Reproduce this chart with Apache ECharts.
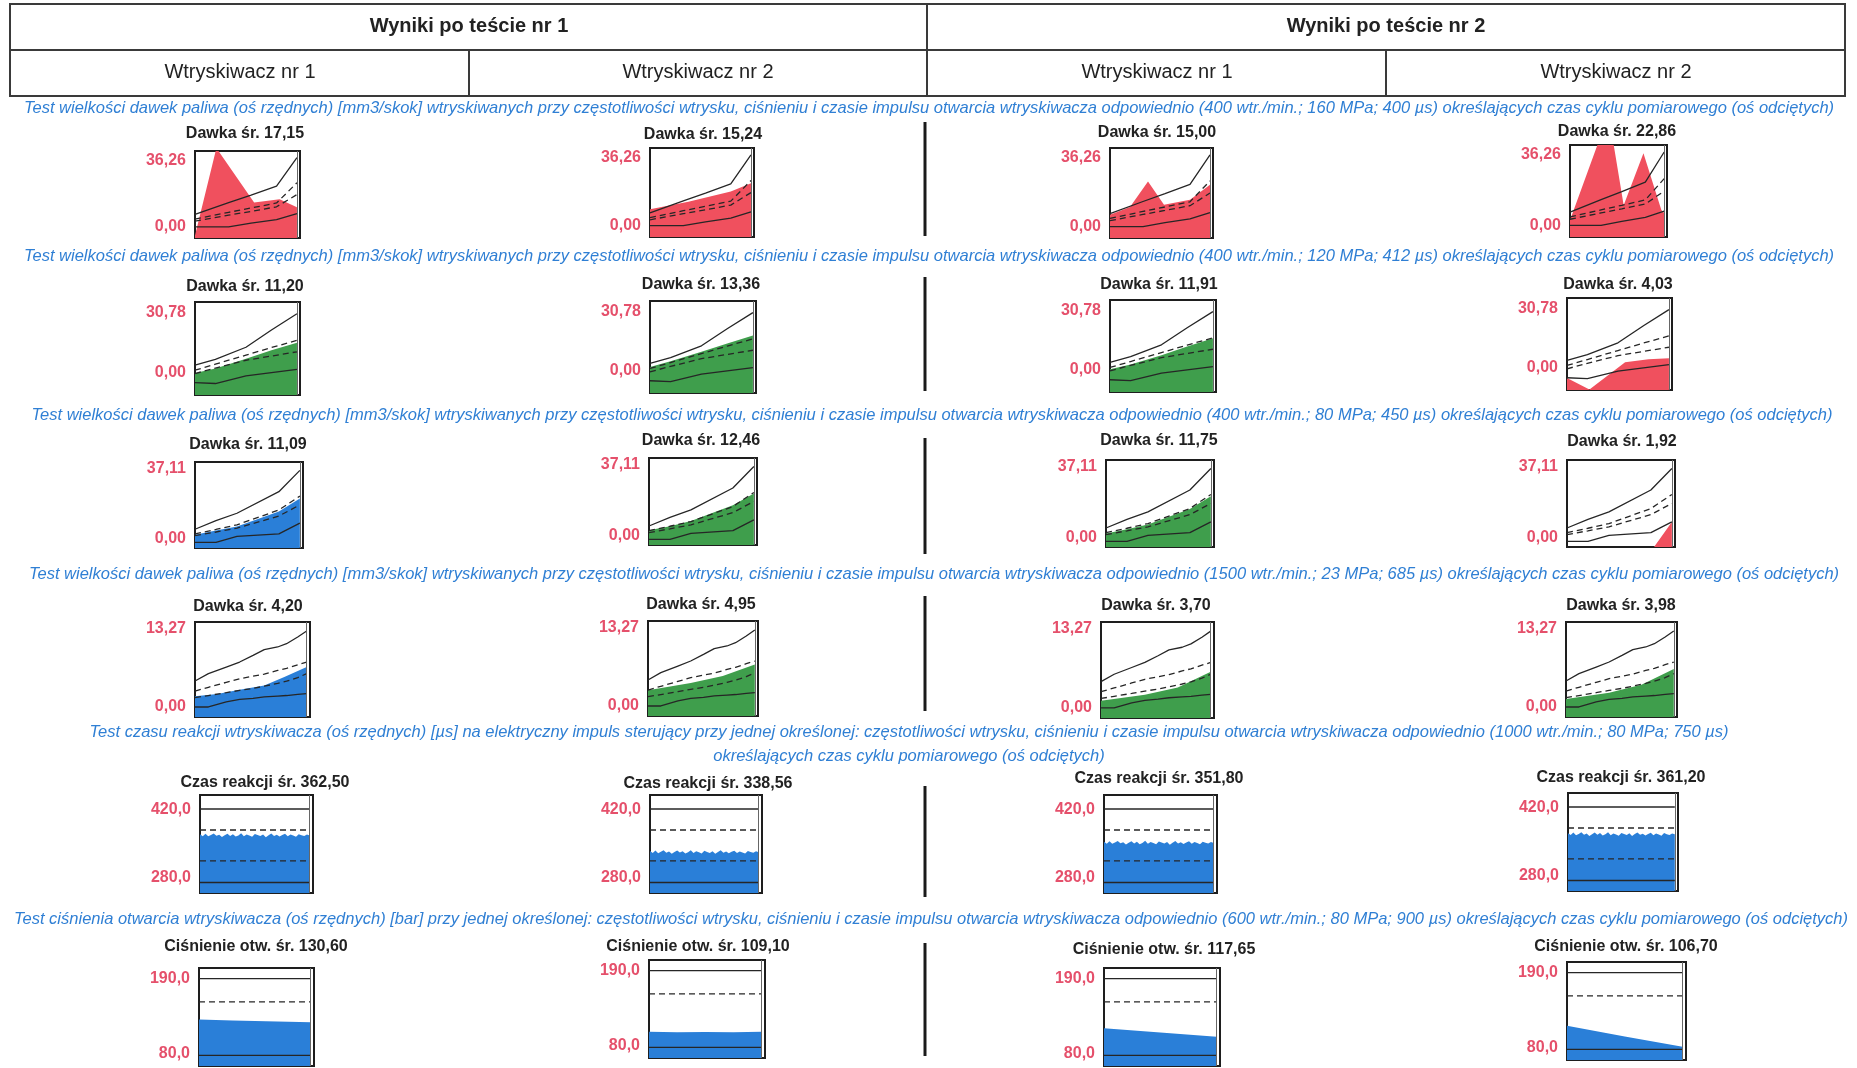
<!DOCTYPE html>
<html>
<head>
<meta charset="utf-8">
<script src="https://cdn.jsdelivr.net/npm/echarts@6/dist/echarts.min.js"></script>
<style>
  html, body { margin: 0; padding: 0; background: #ffffff; }
  #chart { width: 1857px; height: 1068px; }
</style>
</head>
<body>
<div id="chart"></div>
<script>
// ---------- texts ----------
const testHeaders = ['Wyniki po teście nr 1', 'Wyniki po teście nr 2'];
const injectorHeaders = ['Wtryskiwacz nr 1', 'Wtryskiwacz nr 2', 'Wtryskiwacz nr 1', 'Wtryskiwacz nr 2'];
const captions = [
  'Test wielkości dawek paliwa (oś rzędnych) [mm3/skok] wtryskiwanych przy częstotliwości wtrysku, ciśnieniu i czasie impulsu otwarcia wtryskiwacza odpowiednio (400 wtr./min.; 160 MPa; 400 µs) określających czas cyklu pomiarowego (oś odciętych)',
  'Test wielkości dawek paliwa (oś rzędnych) [mm3/skok] wtryskiwanych przy częstotliwości wtrysku, ciśnieniu i czasie impulsu otwarcia wtryskiwacza odpowiednio (400 wtr./min.; 120 MPa; 412 µs) określających czas cyklu pomiarowego (oś odciętych)',
  'Test wielkości dawek paliwa (oś rzędnych) [mm3/skok] wtryskiwanych przy częstotliwości wtrysku, ciśnieniu i czasie impulsu otwarcia wtryskiwacza odpowiednio (400 wtr./min.; 80 MPa; 450 µs) określających czas cyklu pomiarowego (oś odciętych)',
  'Test wielkości dawek paliwa (oś rzędnych) [mm3/skok] wtryskiwanych przy częstotliwości wtrysku, ciśnieniu i czasie impulsu otwarcia wtryskiwacza odpowiednio (1500 wtr./min.; 23 MPa; 685 µs) określających czas cyklu pomiarowego (oś odciętych)',
  'Test czasu reakcji wtryskiwacza (oś rzędnych) [µs] na elektryczny impuls sterujący przy jednej określonej: częstotliwości wtrysku, ciśnieniu i czasie impulsu otwarcia wtryskiwacza odpowiednio (1000 wtr./min.; 80 MPa; 750 µs)\nokreślających czas cyklu pomiarowego (oś odciętych)',
  'Test ciśnienia otwarcia wtryskiwacza (oś rzędnych) [bar] przy jednej określonej: częstotliwości wtrysku, ciśnieniu i czasie impulsu otwarcia wtryskiwacza odpowiednio (600 wtr./min.; 80 MPa; 900 µs) określających czas cyklu pomiarowego (oś odciętych)'
];

// ---------- averages shown above each panel ----------
const dose1Avg = [17.15, 15.24, 15.00, 22.86];
const dose2Avg = [11.20, 13.36, 11.91, 4.03];
const dose3Avg = [11.09, 12.46, 11.75, 1.92];
const dose4Avg = [4.20, 4.95, 3.70, 3.98];
const reactionAvg = [362.50, 338.56, 351.80, 361.20];
const pressureAvg = [130.60, 109.10, 117.65, 106.70];

// ---------- axis ranges ----------
const doseMax = [36.26, 30.78, 37.11, 13.27];
const reactionRange = [280.0, 420.0];
const pressureRange = [80.0, 190.0];

// ---------- tolerance bands (x = % of measuring cycle) ----------
const dose1X = [0, 33, 55, 80, 100];
const dose1Upper = [9.8, 14.7, 17.9, 21.6, 33.5];
const dose1UpperDash = [7.9, 10.7, 12.5, 14.6, 23.0];
const dose1LowerDash = [7.0, 9.5, 11.1, 13.0, 18.1];
const dose1Lower = [4.6, 4.6, 6.2, 7.7, 10.2];

const dose2X = [0, 20, 50, 75, 100];
const dose2Upper = [9.9, 11.8, 15.8, 21.5, 26.9];
const dose2UpperDash = [8.2, 10.2, 13.2, 15.7, 18.1];
const dose2LowerDash = [7.1, 8.9, 11.5, 12.9, 14.3];
const dose2Lower = [4.1, 3.8, 6.3, 7.4, 8.5];

const dose3X = [0, 20, 40, 80, 100];
const dose3Upper = [8.1, 11.8, 15.0, 24.3, 33.5];
const dose3UpperDash = [6.1, 8.0, 10.0, 16.4, 22.4];
const dose3LowerDash = [5.3, 6.9, 8.6, 13.8, 18.6];
const dose3Lower = [2.4, 2.4, 5.0, 6.1, 10.7];

const dose4X = [0, 12, 28, 40, 52, 62, 74, 82, 92, 100];
const dose4Upper = [5.03, 6.05, 6.98, 7.68, 8.61, 9.41, 9.78, 10.24, 11.17, 12.01];
const dose4UpperDash = [3.63, 4.15, 4.84, 5.35, 5.7, 6.0, 6.5, 6.8, 7.3, 7.68];
const dose4LowerDash = [2.7, 3.0, 3.4, 3.72, 4.0, 4.3, 4.7, 5.0, 5.5, 6.05];
const dose4Lower = [1.4, 1.4, 2.1, 2.45, 2.6, 2.8, 2.93, 3.0, 3.15, 3.26];

const reactionLimits = [400, 370, 326, 295];
const pressureLimits = [178, 152, 92];

// ---------- measured doses [x, value] ----------
const dose1Fills = [
  [[0, 1.0], [21, 37.5], [58, 14.8], [83, 16.2], [100, 12.8]],
  [[0, 11.3], [38, 14.4], [80, 18.5], [100, 21.9]],
  [[0, 9.4], [20, 12.5], [38, 22.8], [54, 13.4], [80, 15.4], [100, 21.5]],
  [[0, 6.6], [41, 48.4], [57, 12.5], [78, 33.0], [97, 10.6], [100, 9.5]]
];
const dose2Fills = [
  [[0, 7.3], [20, 8.8], [50, 12.0], [75, 14.8], [100, 17.3]],
  [[0, 8.7], [20, 10.6], [50, 13.8], [75, 16.6], [100, 19.2]],
  [[0, 7.6], [20, 9.2], [50, 12.3], [75, 15.2], [100, 18.0]],
  [[0, 4.0], [22, 0.2], [57, 9.3], [80, 10.3], [100, 10.6]]
];
const dose3Fills = [
  [[0, 5.7], [20, 7.5], [40, 9.3], [80, 15.7], [100, 21.4]],
  [[0, 6.3], [20, 8.0], [40, 10.2], [80, 17.0], [100, 22.0]],
  [[0, 5.8], [20, 7.6], [40, 9.6], [80, 16.2], [100, 21.6]],
  [[0, 0], [83, 0], [100, 10.7]]
];
const dose4Fills = [
  [[0, 2.9], [20, 3.2], [40, 3.8], [62, 4.4], [80, 5.6], [100, 7.0]],
  [[0, 3.6], [40, 4.6], [70, 5.6], [100, 7.2]],
  [[0, 2.4], [40, 3.2], [70, 4.2], [100, 6.4]],
  [[0, 2.5], [40, 3.4], [70, 4.5], [100, 6.7]]
];

// ---------- injector reaction time, successive pulses [µs] ----------
const reaction1 = [363.8, 361.2, 364.5, 360.9, 362.7, 365.1, 361.8, 363.3, 359.9, 362.4, 364.8, 361.5, 363.9, 360.6, 362.2, 365.4, 361.1, 363.6, 362.0, 360.4, 364.2, 362.9, 361.3, 363.7, 359.8, 362.6, 365.0, 361.6, 363.1, 360.7, 362.8, 364.6, 361.0, 363.4, 362.1, 360.2, 364.0, 362.5, 361.4, 363.5, 362.3];
const reaction2 = [339.9, 337.2, 340.6, 336.8, 338.9, 341.2, 337.5, 339.3, 336.1, 338.4, 340.8, 337.7, 339.6, 336.5, 338.2, 341.0, 337.0, 339.8, 338.1, 336.4, 340.3, 338.7, 337.3, 339.5, 335.9, 338.6, 340.9, 337.6, 339.2, 336.7, 338.8, 340.5, 337.1, 339.4, 338.0, 336.3, 340.1, 338.5, 337.4, 339.7, 338.3];
const reaction3 = [353.1, 350.5, 354.0, 350.2, 352.1, 354.4, 350.9, 352.6, 349.3, 351.7, 353.9, 350.8, 353.2, 349.8, 351.5, 354.6, 350.3, 352.9, 351.4, 349.6, 353.5, 352.2, 350.6, 353.0, 349.1, 351.9, 354.2, 350.7, 352.4, 349.9, 352.0, 353.8, 350.4, 352.7, 351.3, 349.5, 353.3, 351.8, 350.7, 352.8, 351.6];
const reaction4 = [362.6, 359.9, 363.4, 359.5, 361.5, 363.9, 360.4, 362.0, 358.7, 361.1, 363.5, 360.2, 362.7, 359.3, 360.9, 364.1, 359.8, 362.3, 360.8, 359.1, 362.9, 361.6, 360.0, 362.4, 358.5, 361.3, 363.7, 360.3, 361.8, 359.4, 361.4, 363.2, 359.7, 362.1, 360.7, 358.9, 362.8, 361.2, 360.1, 362.2, 361.0];

// ---------- opening pressure [bar] ----------
const pressureFills = [
  [[0, 132.2], [30, 131.2], [60, 130.3], [100, 129.2]],
  [[0, 109.6], [25, 108.8], [50, 109.3], [75, 108.9], [100, 109.4]],
  [[0, 122.5], [50, 117.6], [100, 112.8]],
  [[0, 118.5], [50, 106.5], [100, 94.8]]
];

// ---------- styling / layout ----------
const FONT = '"Liberation Sans", Arial, sans-serif';
const RED = '#f0505e', GREEN = '#3f9e4c', BLUE = '#2a7fd8';
const LABEL_COLOR = '#e5506b', CAPTION_COLOR = '#2f7fd4', INK = '#222222';

// plot rectangles [x1, y1, x2, y2] per row and column
const boxes = [
  [[195, 151, 300, 238], [650, 148, 754, 237], [1110, 148, 1213, 238], [1570, 145, 1667, 237]],
  [[195, 302, 300, 395], [650, 301, 756, 393], [1110, 300, 1216, 392], [1567, 298, 1672, 390]],
  [[195, 462, 303, 548], [649, 458, 757, 545], [1106, 460, 1214, 547], [1567, 460, 1675, 547]],
  [[195, 622, 310, 717], [648, 621, 758, 716], [1101, 622, 1214, 718], [1566, 622, 1677, 717]],
  [[200, 795, 313, 893], [650, 795, 762, 893], [1104, 795, 1217, 893], [1568, 793, 1678, 891]],
  [[199, 968, 314, 1066], [649, 960, 765, 1058], [1104, 968, 1220, 1066], [1567, 962, 1686, 1060]]
];
const titlePos = [
  [[245, 134], [703, 135], [1157, 133], [1617, 132]],
  [[245, 287], [701, 285], [1159, 285], [1618, 285]],
  [[248, 445], [701, 441], [1159, 441], [1622, 442]],
  [[248, 607], [701, 605], [1156, 606], [1621, 606]],
  [[265, 783], [708, 784], [1159, 779], [1621, 778]],
  [[256, 947], [698, 947], [1164, 950], [1626, 947]]
];
const captionPos = [[929, 108], [929, 256], [932, 415], [934, 574], [909, 744], [931, 919]];
const labelShift = [[10, 11], [11, 22], [7, 9], [7, 10], [15, 15], [11, 12]];

const fmt = (v, d) => v.toFixed(d).replace('.', ',');
const pairs = (xs, ys) => xs.map((x, i) => [x, ys[i]]);
const flat = (v) => [[0, v], [100, v]];
const seq = (ys) => ys.map((y, i) => [i * 100 / (ys.length - 1), y]);

const rows = [
  { min: 0, max: doseMax[0], dec: 2, label: 'Dawka śr. ', avg: dose1Avg,
    refs: [pairs(dose1X, dose1Upper), pairs(dose1X, dose1UpperDash), pairs(dose1X, dose1LowerDash), pairs(dose1X, dose1Lower)],
    dash: [false, true, true, false], fills: dose1Fills, colors: [RED, RED, RED, RED] },
  { min: 0, max: doseMax[1], dec: 2, label: 'Dawka śr. ', avg: dose2Avg,
    refs: [pairs(dose2X, dose2Upper), pairs(dose2X, dose2UpperDash), pairs(dose2X, dose2LowerDash), pairs(dose2X, dose2Lower)],
    dash: [false, true, true, false], fills: dose2Fills, colors: [GREEN, GREEN, GREEN, RED] },
  { min: 0, max: doseMax[2], dec: 2, label: 'Dawka śr. ', avg: dose3Avg,
    refs: [pairs(dose3X, dose3Upper), pairs(dose3X, dose3UpperDash), pairs(dose3X, dose3LowerDash), pairs(dose3X, dose3Lower)],
    dash: [false, true, true, false], fills: dose3Fills, colors: [BLUE, GREEN, GREEN, RED] },
  { min: 0, max: doseMax[3], dec: 2, label: 'Dawka śr. ', avg: dose4Avg,
    refs: [pairs(dose4X, dose4Upper), pairs(dose4X, dose4UpperDash), pairs(dose4X, dose4LowerDash), pairs(dose4X, dose4Lower)],
    dash: [false, true, true, false], fills: dose4Fills, colors: [BLUE, GREEN, GREEN, GREEN] },
  { min: reactionRange[0], max: reactionRange[1], dec: 1, label: 'Czas reakcji śr. ', avg: reactionAvg,
    refs: reactionLimits.map(flat), dash: [false, true, true, false],
    fills: [seq(reaction1), seq(reaction2), seq(reaction3), seq(reaction4)], colors: [BLUE, BLUE, BLUE, BLUE] },
  { min: pressureRange[0], max: pressureRange[1], dec: 1, label: 'Ciśnienie otw. śr. ', avg: pressureAvg,
    refs: pressureLimits.map(flat), dash: [false, true, false],
    fills: pressureFills, colors: [BLUE, BLUE, BLUE, BLUE] }
];

const grids = [], xAxes = [], yAxes = [], series = [], graphics = [];

const text = (x, y, str, font, fill, extra) => graphics.push({
  type: 'text', x, y, silent: true,
  style: Object.assign({ text: str, font, fill, align: 'center', verticalAlign: 'middle' }, extra || {})
});
const line = (x1, y1, x2, y2, w, c) => graphics.push({
  type: 'line', silent: true, shape: { x1, y1, x2, y2 }, style: { stroke: c || '#3a3a3a', lineWidth: w }
});

// header table
graphics.push({ type: 'rect', silent: true, shape: { x: 10, y: 4, width: 1835, height: 92 },
  style: { fill: 'none', stroke: '#3a3a3a', lineWidth: 2 } });
line(10, 50, 1845, 50, 2);
line(927, 4, 927, 96, 2);
line(469, 50, 469, 96, 2);
line(1386, 50, 1386, 96, 2);
text(469, 26, testHeaders[0], 'bold 20px ' + FONT, INK);
text(1386, 26, testHeaders[1], 'bold 20px ' + FONT, INK);
[240, 698, 1157, 1616].forEach((x, i) => text(x, 72, injectorHeaders[i], '20px ' + FONT, INK));

// captions
captions.forEach((c, i) => text(captionPos[i][0], captionPos[i][1], c, 'italic 16.5px ' + FONT, CAPTION_COLOR, { lineHeight: 24 }));

// separators between the two test results
[[122, 236], [277, 391], [438, 554], [596, 711], [786, 897], [943, 1056]]
  .forEach(s => line(925, s[0], 925, s[1], 3, '#1a1a1a'));

let gi = 0;
rows.forEach((row, r) => {
  for (let c = 0; c < 4; c++) {
    const b = boxes[r][c];
    const [tShift, bShift] = labelShift[r];
    const labelFont = { fontSize: 16, fontWeight: 'bold', color: LABEL_COLOR, fontFamily: FONT };
    grids.push({ left: b[0], top: b[1], width: b[2] - b[0], height: b[3] - b[1],
      show: true, borderColor: '#1e1e1e', borderWidth: 2, backgroundColor: '#ffffff' });
    xAxes.push({ gridIndex: gi, type: 'value', min: 0, max: 103, show: false });
    yAxes.push({
      gridIndex: gi, type: 'value', min: row.min, max: row.max,
      axisLine: { show: false }, axisTick: { show: false }, splitLine: { show: false },
      axisLabel: {
        customValues: [row.min, row.max], margin: 9,
        formatter: (v) => (v === row.max ? '{t|' : '{b|') + fmt(v, row.dec) + '}',
        rich: {
          t: Object.assign({ padding: [tShift * 2, 0, 0, 0] }, labelFont),
          b: Object.assign({ padding: [0, 0, bShift * 2, 0] }, labelFont)
        }
      }
    });
    series.push({
      type: 'line', xAxisIndex: gi, yAxisIndex: gi, data: row.fills[c], symbol: 'none', silent: true,
      lineStyle: { width: 0 }, areaStyle: { color: row.colors[c], opacity: 1, origin: 'start' }, z: 2,
      markLine: { symbol: 'none', silent: true, label: { show: false },
        lineStyle: { color: '#666', width: 1, type: 'solid' }, data: [{ xAxis: 100 }] }
    });
    row.refs.forEach((ref, k) => series.push({
      type: 'line', xAxisIndex: gi, yAxisIndex: gi, data: ref, symbol: 'none', silent: true, z: 3,
      lineStyle: { color: '#262626', width: 1.3, type: row.dash[k] ? [6, 4] : 'solid' }
    }));
    const tp = titlePos[r][c];
    text(tp[0], tp[1], row.label + fmt(row.avg[c], 2), 'bold 16px ' + FONT, INK);
    gi++;
  }
});

const chart = echarts.init(document.getElementById('chart'), null, { renderer: 'canvas' });
chart.setOption({
  animation: false,
  backgroundColor: '#ffffff',
  grid: grids, xAxis: xAxes, yAxis: yAxes, series: series,
  graphic: { elements: graphics }
});
</script>
</body>
</html>
